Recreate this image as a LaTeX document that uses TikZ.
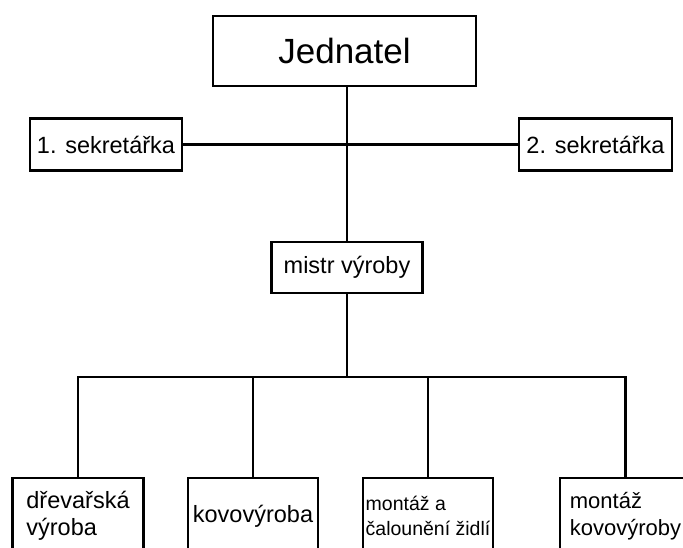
\documentclass[tikz,border=0pt]{standalone}
\usepackage{fontspec}
\setmainfont{Liberation Sans}
\tikzset{
  orgbox/.style={draw, rectangle, inner sep=2pt, align=left,
    font=\fontsize{23.5}{27}\selectfont},
  link/.style={draw, line width=2.6pt}
}
\begin{document}
\begin{tikzpicture}[x=1pt, y=-1pt, line width=2.6pt]
\useasboundingbox (0,0) rectangle (683,548);
\fill[white] (0,0) rectangle (683,548);
\clip (0,0) rectangle (683,548);

\node[orgbox, minimum width=263pt, minimum height=70pt,
      font=\fontsize{35}{40}\selectfont] (jed) at (344.5,51) {Jednatel};
\node[orgbox, minimum width=152pt, minimum height=52pt] (s1) at (106,144.5) {1. sekretářka};
\node[orgbox, minimum width=153pt, minimum height=52pt] (s2) at (595.5,144.5) {2. sekretářka};
\node[orgbox, minimum width=151pt, minimum height=51pt] (m) at (347,267.5) {mistr výroby};

\node[orgbox, minimum width=131pt, minimum height=76pt] (a) at (78,516) {dřevařská\\výroba};
\node[orgbox, minimum width=130pt, minimum height=76pt] (b) at (253,516) {kovovýroba};
\node[orgbox, minimum width=130pt, minimum height=76pt,
      font=\fontsize{19.5}{25}\selectfont] (c) at (428,516) {montáž a\\čalounění židlí};
\node[orgbox, minimum width=131pt, minimum height=76pt,
      font=\fontsize{22}{26.5}\selectfont] (d) at (625.5,516) {montáž\\kovovýroby};

\coordinate (bus) at (347,377);

\draw[link] (jed.south -| m.north) -- (m.north);
\draw[link] (s1.east) -- (s2.west);
\draw[link] (m.south) -- (bus);
\draw[link] (a.north) -- (a.north |- bus) -- (d.north |- bus) -- (d.north);
\draw[link] (b.north) -- (b.north |- bus);
\draw[link] (c.north) -- (c.north |- bus);
\end{tikzpicture}
\end{document}
